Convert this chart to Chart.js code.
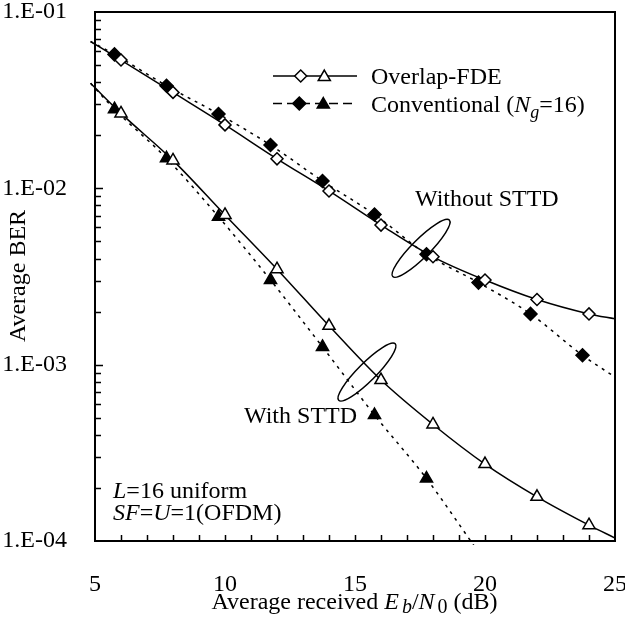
<!DOCTYPE html>
<html><head><meta charset="utf-8">
<script src="https://cdn.jsdelivr.net/npm/chart.js@4/dist/chart.umd.min.js"></script>
<style>html,body{margin:0;padding:0;background:#fff;} #wrap{position:relative;width:625px;height:619px;}</style>
</head><body><div id="wrap"><canvas id="c" width="625" height="619"></canvas></div>
<script>
const FONT = '"Liberation Serif", "Times New Roman", serif';

// Eb/N0 (dB)
const snrOverlap = [6, 8, 10, 12, 14, 16, 18, 20, 22, 24];
const snrConv = [5.75, 7.75, 9.75, 11.75, 13.75, 15.75, 17.75, 19.75, 21.75, 23.75];
// Average BER
const berOverlapNoSTTD = [5.34e-2, 3.50e-2, 2.29e-2, 1.47e-2, 9.66e-3, 6.19e-3, 4.09e-3, 3.02e-3, 2.34e-3, 1.94e-3];
const berConvNoSTTD = [5.75e-2, 3.82e-2, 2.64e-2, 1.76e-2, 1.10e-2, 7.11e-3, 4.23e-3, 2.92e-3, 1.94e-3, 1.13e-3];
const berOverlapSTTD = [2.66e-2, 1.44e-2, 7.06e-3, 3.48e-3, 1.66e-3, 8.18e-4, 4.58e-4, 2.73e-4, 1.78e-4, 1.23e-4];
const berConvSTTD = [2.81e-2, 1.48e-2, 6.90e-3, 3.02e-3, 1.26e-3, 5.18e-4, 2.26e-4];
// curve ends [x, BER]
const endsOverlapNoSTTD = [[4.83, 6.8e-2], [25, 1.82e-3]];
const endsConvNoSTTD = [[4.83, 6.8e-2], [25, 8.5e-4]];
const endsOverlapSTTD = [[4.83, 3.94e-2], [25, 1.04e-4]];
const endsConvSTTD = [[4.83, 3.94e-2], [19.6, 9.3e-5]];
// ticks
const xTickValues = [5, 10, 15, 20, 25];
const xTickLabels = ['5', '10', '15', '20', '25'];
const yTickValues = [1e-4, 1e-3, 1e-2, 1e-1];
const yTickLabels = ['1.E-04', '1.E-03', '1.E-02', '1.E-01'];
const legendLabels = ['Overlap-FDE', 'Conventional'];

const pts = (xs, ys) => ys.map((y, i) => ({x: xs[i], y}));
const curve = (xs, ys, ends) => [{x: ends[0][0], y: ends[0][1]}, ...pts(xs, ys), {x: ends[1][0], y: ends[1][1]}];

function markerDS(data, style, fill, r) {
  return {data, showLine: false, pointStyle: style, pointRadius: r, pointHoverRadius: r,
    pointBackgroundColor: fill, pointBorderColor: '#000', pointBorderWidth: 1.5, order: 0};
}
function curveDS(data, dash) {
  return {data, borderColor: '#000', borderWidth: 1.5, borderDash: dash, pointRadius: 0,
    cubicInterpolationMode: 'monotone', fill: false, order: 1, clip: {left: 6, top: 0, right: 0, bottom: 4}};
}

function rich(ctx, segs, x, y, align) {
  const fontOf = s => (s[1] === 'i' ? 'italic ' : '') + s[2] + 'px ' + FONT;
  let total = 0;
  const ws = segs.map(s => { ctx.font = fontOf(s); const w = ctx.measureText(s[0]).width + (s[4] || 0); total += w; return w; });
  let cx = align === 'center' ? x - total / 2 : x;
  ctx.textAlign = 'left'; ctx.textBaseline = 'alphabetic';
  segs.forEach((s, i) => { ctx.font = fontOf(s); ctx.fillText(s[0], cx, y + (s[3] || 0)); cx += ws[i]; });
}

function drawMarker(ctx, style, r, fill, x, y) {
  ctx.save();
  ctx.fillStyle = fill; ctx.strokeStyle = '#000'; ctx.lineWidth = 1.5; ctx.setLineDash([]);
  ctx.beginPath();
  if (style === 'rectRot') {
    ctx.moveTo(x, y - r); ctx.lineTo(x + r, y); ctx.lineTo(x, y + r); ctx.lineTo(x - r, y); ctx.closePath();
  } else {
    const a = Math.PI * 2 / 3;
    for (let k = 0; k < 3; k++) {
      const px = x + Math.sin(k * a) * r, py = y - Math.cos(k * a) * r;
      k ? ctx.lineTo(px, py) : ctx.moveTo(px, py);
    }
    ctx.closePath();
  }
  ctx.fill(); ctx.stroke();
  ctx.restore();
}

const decor = {
  id: 'decor',
  afterDraw(chart) {
    const ctx = chart.ctx, a = chart.chartArea, xs = chart.scales.x, ys = chart.scales.y;
    ctx.save();
    ctx.strokeStyle = '#000'; ctx.fillStyle = '#000';
    // frame
    ctx.lineWidth = 2;
    ctx.strokeRect(a.left, a.top, a.right - a.left, a.bottom - a.top);
    // y ticks (inside)
    ctx.lineWidth = 1.5;
    ctx.beginPath();
    for (let e = -4; e <= -2; e++) {
      for (let m = 1; m <= 9; m++) {
        const v = m * Math.pow(10, e);
        if (m === 1 && e === -4) continue;
        const y = Math.round(ys.getPixelForValue(v)) + 0.5;
        ctx.moveTo(a.left, y); ctx.lineTo(a.left + (m === 1 ? 8 : 6), y);
      }
    }
    // x ticks (inside)
    for (let v = 6; v <= 24; v++) {
      const x = Math.round(xs.getPixelForValue(v)) + 0.5;
      ctx.moveTo(x, a.bottom); ctx.lineTo(x, a.bottom - 6);
    }
    ctx.stroke();
    // ellipses
    ctx.lineWidth = 1.5;
    [[17.54, 4.57e-3], [15.46, 9.08e-4]].forEach(c => {
      ctx.beginPath();
      ctx.ellipse(xs.getPixelForValue(c[0]), ys.getPixelForValue(c[1]), 40, 9, -Math.PI / 4, 0, Math.PI * 2);
      ctx.stroke();
    });
    // legend
    ctx.lineWidth = 1.5;
    ctx.beginPath(); ctx.moveTo(273, 76); ctx.lineTo(357, 76); ctx.stroke();
    ctx.setLineDash([9, 5]);
    ctx.beginPath(); ctx.moveTo(273, 103.5); ctx.lineTo(357, 103.5); ctx.stroke();
    ctx.setLineDash([]);
    drawMarker(ctx, 'rectRot', 6, '#fff', 300.7, 76);
    drawMarker(ctx, 'triangle', 7, '#fff', 324.3, 77);
    drawMarker(ctx, 'rectRot', 6.5, '#000', 299.3, 103.5);
    drawMarker(ctx, 'triangle', 7, '#000', 323.3, 104.5);
    ctx.fillStyle = '#000';
    rich(ctx, [[legendLabels[0], 'n', 24]], 371, 84);
    rich(ctx, [[legendLabels[1] + ' (', 'n', 24], ['N', 'i', 24], ['g', 'i', 18, 6], ['=16)', 'n', 24]], 371, 112);
    // annotations
    rich(ctx, [['Without STTD', 'n', 24]], 415, 206);
    rich(ctx, [['With STTD', 'n', 24]], 244, 423);
    rich(ctx, [['L', 'i', 24], ['=16 uniform', 'n', 24]], 113, 498);
    rich(ctx, [['SF', 'i', 24], ['=', 'n', 24], ['U', 'i', 24], ['=1(OFDM)', 'n', 24]], 113, 520);
    // axis titles
    rich(ctx, [['Average received ', 'n', 24], ['E', 'i', 24, 0, 3], ['b', 'i', 20, 4], ['/', 'n', 24], ['N', 'i', 24, 0, 3], ['0', 'n', 20, 4], [' (dB)', 'n', 24]], 354.5, 608.5, 'center');
    ctx.save();
    ctx.translate(25, 276); ctx.rotate(-Math.PI / 2);
    ctx.font = '24px ' + FONT; ctx.textAlign = 'center'; ctx.textBaseline = 'alphabetic';
    ctx.fillText('Average BER', 0, 0);
    ctx.restore();
    ctx.restore();
  }
};

Chart.defaults.font.family = FONT;
Chart.defaults.color = '#000';

new Chart(document.getElementById('c'), {
  type: 'line',
  data: {
    datasets: [
      markerDS(pts(snrOverlap, berOverlapNoSTTD), 'rectRot', '#fff', 6),
      markerDS(pts(snrConv, berConvNoSTTD), 'rectRot', '#000', 6.5),
      markerDS(pts(snrOverlap, berOverlapSTTD), 'triangle', '#fff', 7),
      markerDS(pts(snrConv.slice(0, berConvSTTD.length), berConvSTTD), 'triangle', '#000', 7),
      curveDS(curve(snrOverlap, berOverlapNoSTTD, endsOverlapNoSTTD), []),
      curveDS(curve(snrConv, berConvNoSTTD, endsConvNoSTTD), [3, 5]),
      curveDS(curve(snrOverlap, berOverlapSTTD, endsOverlapSTTD), []),
      curveDS(curve(snrConv.slice(0, berConvSTTD.length), berConvSTTD, endsConvSTTD), [3, 5])
    ]
  },
  options: {
    responsive: false, animation: false,
    layout: {padding: {left: 0, top: 12, right: 10, bottom: 0}},
    plugins: {legend: {display: false}, tooltip: {enabled: false}},
    scales: {
      x: {
        type: 'linear', min: 5, max: 25,
        grid: {display: false}, border: {display: false},
        ticks: {font: {size: 24}, color: '#000', padding: 21, maxRotation: 0,
          callback: (v) => { const i = xTickValues.indexOf(v); return i >= 0 ? xTickLabels[i] : ''; }},
        afterBuildTicks: s => { s.ticks = xTickValues.map(v => ({value: v})); },
        afterFit: s => { s.height = 78; s.paddingLeft = 0; s.paddingRight = 0; }
      },
      y: {
        type: 'logarithmic', min: 1e-4, max: 1e-1,
        grid: {display: false}, border: {display: false},
        ticks: {font: {size: 24}, color: '#000', padding: 20,
          callback: (v) => { const i = yTickValues.findIndex(t => Math.abs(t - v) / t < 1e-6); return i >= 0 ? yTickLabels[i] : ''; }},
        afterBuildTicks: s => { s.ticks = yTickValues.map(v => ({value: v})); },
        afterFit: s => { s.width = 95; s.paddingTop = 0; s.paddingBottom = 0; }
      }
    }
  },
  plugins: [decor]
});
</script>
</body></html>
